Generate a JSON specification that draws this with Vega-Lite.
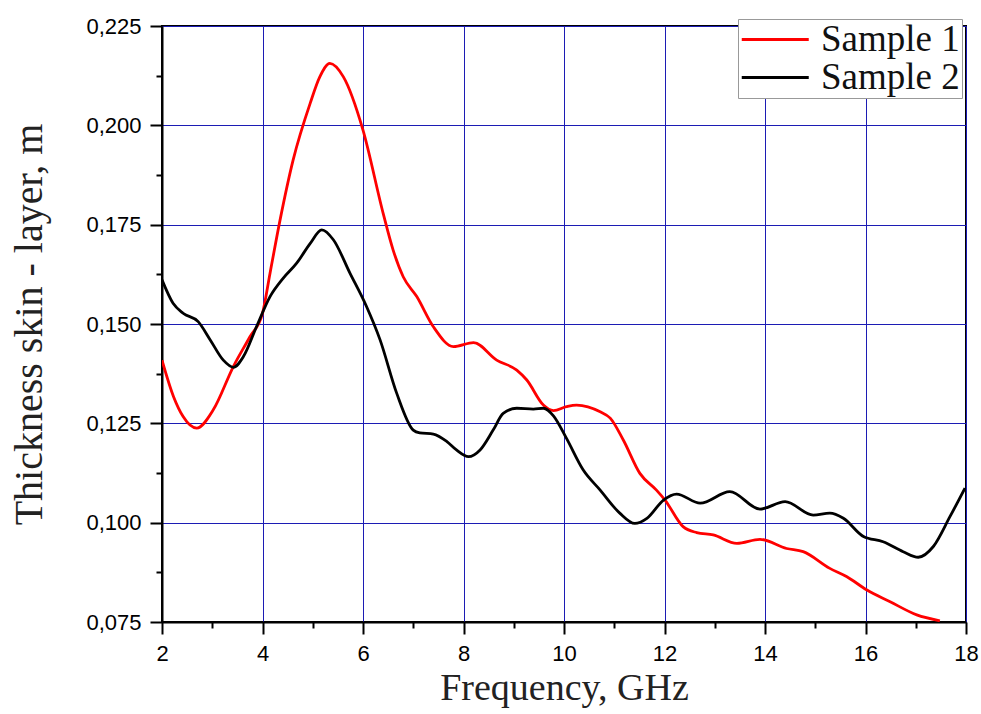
{
  "$schema": "https://vega.github.io/schema/vega-lite/v6.json",
  "width": 804,
  "height": 596,
  "autosize": {"type": "none"},
  "padding": {"left": 162, "top": 26, "right": 15, "bottom": 92},
  "background": "white",
  "config": {
    "view": {"stroke": "black", "strokeWidth": 2},
    "axis": {"domainColor": "black", "domainWidth": 2, "tickColor": "black", "tickWidth": 2}
  },
  "data": {
    "values": [
      {"f": 2.0, "t": 0.1409, "s": "Sample 1"},
      {"f": 2.23, "t": 0.1317, "s": "Sample 1"},
      {"f": 2.42, "t": 0.1267, "s": "Sample 1"},
      {"f": 2.69, "t": 0.1238, "s": "Sample 1"},
      {"f": 3.02, "t": 0.1284, "s": "Sample 1"},
      {"f": 3.42, "t": 0.1393, "s": "Sample 1"},
      {"f": 3.75, "t": 0.1468, "s": "Sample 1"},
      {"f": 4.0, "t": 0.1527, "s": "Sample 1"},
      {"f": 4.15, "t": 0.1628, "s": "Sample 1"},
      {"f": 4.35, "t": 0.1762, "s": "Sample 1"},
      {"f": 4.61, "t": 0.1913, "s": "Sample 1"},
      {"f": 4.95, "t": 0.2056, "s": "Sample 1"},
      {"f": 5.14, "t": 0.2122, "s": "Sample 1"},
      {"f": 5.34, "t": 0.2156, "s": "Sample 1"},
      {"f": 5.61, "t": 0.2122, "s": "Sample 1"},
      {"f": 6.0, "t": 0.1988, "s": "Sample 1"},
      {"f": 6.4, "t": 0.1779, "s": "Sample 1"},
      {"f": 6.6, "t": 0.1686, "s": "Sample 1"},
      {"f": 6.8, "t": 0.1619, "s": "Sample 1"},
      {"f": 7.07, "t": 0.1569, "s": "Sample 1"},
      {"f": 7.4, "t": 0.1493, "s": "Sample 1"},
      {"f": 7.8, "t": 0.1443, "s": "Sample 1"},
      {"f": 8.2, "t": 0.1453, "s": "Sample 1"},
      {"f": 8.66, "t": 0.1409, "s": "Sample 1"},
      {"f": 9.06, "t": 0.1384, "s": "Sample 1"},
      {"f": 9.26, "t": 0.1359, "s": "Sample 1"},
      {"f": 9.59, "t": 0.1296, "s": "Sample 1"},
      {"f": 9.79, "t": 0.1282, "s": "Sample 1"},
      {"f": 10.05, "t": 0.1292, "s": "Sample 1"},
      {"f": 10.25, "t": 0.1296, "s": "Sample 1"},
      {"f": 10.72, "t": 0.1279, "s": "Sample 1"},
      {"f": 10.92, "t": 0.1263, "s": "Sample 1"},
      {"f": 11.18, "t": 0.1208, "s": "Sample 1"},
      {"f": 11.51, "t": 0.1124, "s": "Sample 1"},
      {"f": 11.84, "t": 0.1082, "s": "Sample 1"},
      {"f": 12.01, "t": 0.1057, "s": "Sample 1"},
      {"f": 12.37, "t": 0.099, "s": "Sample 1"},
      {"f": 12.64, "t": 0.0975, "s": "Sample 1"},
      {"f": 12.97, "t": 0.0969, "s": "Sample 1"},
      {"f": 13.44, "t": 0.0948, "s": "Sample 1"},
      {"f": 13.9, "t": 0.0958, "s": "Sample 1"},
      {"f": 14.43, "t": 0.0935, "s": "Sample 1"},
      {"f": 14.76, "t": 0.0927, "s": "Sample 1"},
      {"f": 15.29, "t": 0.0885, "s": "Sample 1"},
      {"f": 15.63, "t": 0.0864, "s": "Sample 1"},
      {"f": 16.02, "t": 0.0831, "s": "Sample 1"},
      {"f": 16.49, "t": 0.0801, "s": "Sample 1"},
      {"f": 17.02, "t": 0.0768, "s": "Sample 1"},
      {"f": 17.48, "t": 0.0753, "s": "Sample 1"},
      {"f": 2.0, "t": 0.1611, "s": "Sample 2"},
      {"f": 2.22, "t": 0.1552, "s": "Sample 2"},
      {"f": 2.42, "t": 0.1527, "s": "Sample 2"},
      {"f": 2.72, "t": 0.1506, "s": "Sample 2"},
      {"f": 2.96, "t": 0.146, "s": "Sample 2"},
      {"f": 3.22, "t": 0.1409, "s": "Sample 2"},
      {"f": 3.42, "t": 0.1391, "s": "Sample 2"},
      {"f": 3.62, "t": 0.1418, "s": "Sample 2"},
      {"f": 3.88, "t": 0.1493, "s": "Sample 2"},
      {"f": 4.15, "t": 0.1569, "s": "Sample 2"},
      {"f": 4.41, "t": 0.1615, "s": "Sample 2"},
      {"f": 4.68, "t": 0.1653, "s": "Sample 2"},
      {"f": 4.95, "t": 0.1703, "s": "Sample 2"},
      {"f": 5.18, "t": 0.1737, "s": "Sample 2"},
      {"f": 5.41, "t": 0.1712, "s": "Sample 2"},
      {"f": 5.74, "t": 0.1628, "s": "Sample 2"},
      {"f": 6.07, "t": 0.1544, "s": "Sample 2"},
      {"f": 6.34, "t": 0.146, "s": "Sample 2"},
      {"f": 6.67, "t": 0.1326, "s": "Sample 2"},
      {"f": 7.0, "t": 0.1233, "s": "Sample 2"},
      {"f": 7.13, "t": 0.1226, "s": "Sample 2"},
      {"f": 7.4, "t": 0.1223, "s": "Sample 2"},
      {"f": 7.67, "t": 0.1204, "s": "Sample 2"},
      {"f": 7.86, "t": 0.1183, "s": "Sample 2"},
      {"f": 8.1, "t": 0.1166, "s": "Sample 2"},
      {"f": 8.33, "t": 0.1183, "s": "Sample 2"},
      {"f": 8.59, "t": 0.1233, "s": "Sample 2"},
      {"f": 8.79, "t": 0.1275, "s": "Sample 2"},
      {"f": 9.06, "t": 0.1288, "s": "Sample 2"},
      {"f": 9.39, "t": 0.1286, "s": "Sample 2"},
      {"f": 9.59, "t": 0.1288, "s": "Sample 2"},
      {"f": 9.79, "t": 0.1269, "s": "Sample 2"},
      {"f": 10.05, "t": 0.1212, "s": "Sample 2"},
      {"f": 10.38, "t": 0.1133, "s": "Sample 2"},
      {"f": 10.72, "t": 0.1082, "s": "Sample 2"},
      {"f": 11.11, "t": 0.1024, "s": "Sample 2"},
      {"f": 11.41, "t": 0.0998, "s": "Sample 2"},
      {"f": 11.65, "t": 0.1011, "s": "Sample 2"},
      {"f": 11.98, "t": 0.1057, "s": "Sample 2"},
      {"f": 12.24, "t": 0.1072, "s": "Sample 2"},
      {"f": 12.71, "t": 0.1049, "s": "Sample 2"},
      {"f": 13.3, "t": 0.1078, "s": "Sample 2"},
      {"f": 13.9, "t": 0.1034, "s": "Sample 2"},
      {"f": 14.4, "t": 0.1053, "s": "Sample 2"},
      {"f": 14.96, "t": 0.1019, "s": "Sample 2"},
      {"f": 15.29, "t": 0.1024, "s": "Sample 2"},
      {"f": 15.56, "t": 0.1011, "s": "Sample 2"},
      {"f": 15.96, "t": 0.0965, "s": "Sample 2"},
      {"f": 16.35, "t": 0.0952, "s": "Sample 2"},
      {"f": 16.75, "t": 0.0927, "s": "Sample 2"},
      {"f": 17.05, "t": 0.0913, "s": "Sample 2"},
      {"f": 17.35, "t": 0.094, "s": "Sample 2"},
      {"f": 17.68, "t": 0.1015, "s": "Sample 2"},
      {"f": 17.98, "t": 0.1087, "s": "Sample 2"}
    ]
  },
  "layer": [
    {
      "mark": {"type": "line", "strokeOpacity": 0},
      "encoding": {
        "x": {"field": "f", "type": "quantitative", "scale": {"domain": [2, 18], "nice": false, "zero": false},
          "axis": {"orient": "bottom", "values": [3, 5, 7, 9, 11, 13, 15, 17], "labels": false, "grid": false, "domain": false, "tickSize": 6, "title": null}},
        "y": {"field": "t", "type": "quantitative", "scale": {"domain": [0.075, 0.225], "nice": false, "zero": false},
          "axis": {"orient": "left", "values": [0.0875, 0.1125, 0.1375, 0.1625, 0.1875, 0.2125], "labels": false, "grid": false, "domain": false, "tickSize": 6, "title": null}},
        "detail": {"field": "s"}
      }
    },
    {
      "mark": {"type": "line", "interpolate": "monotone", "strokeWidth": 2.8, "clip": true},
      "encoding": {
        "x": {"field": "f", "type": "quantitative",
          "axis": {"orient": "bottom", "values": [2, 4, 6, 8, 10, 12, 14, 16, 18], "tickSize": 12, "grid": true, "gridColor": "#1c1cb4", "gridWidth": 1, "gridOpacity": 1,
            "labelFont": "Liberation Sans", "labelFontSize": 22, "labelColor": "black", "labelPadding": 9, "labelFlush": false,
            "title": "Frequency, GHz", "titleFont": "Liberation Serif", "titleFontSize": 38, "titleFontWeight": "normal", "titleColor": "#222", "titleBaseline": "alphabetic", "titleY": 77}},
        "y": {"field": "t", "type": "quantitative",
          "axis": {"orient": "left", "values": [0.075, 0.1, 0.125, 0.15, 0.175, 0.2, 0.225], "tickSize": 12, "grid": true, "gridColor": "#1c1cb4", "gridWidth": 1, "gridOpacity": 1,
            "labelExpr": "replace(format(datum.value, '.3f'), '.', ',')", "labelFlush": false,
            "labelFont": "Liberation Sans", "labelFontSize": 22, "labelColor": "black", "labelPadding": 9,
            "title": "Thickness skin - layer, m", "titleFont": "Liberation Serif", "titleFontSize": 40, "titleFontWeight": "normal", "titleColor": "#222", "titleBaseline": "alphabetic", "titleX": -121}},
        "color": {"field": "s", "type": "nominal", "scale": {"domain": ["Sample 1", "Sample 2"], "range": ["#ff0000", "#000000"]},
          "legend": {"orient": "none", "legendX": 576, "legendY": -7, "title": null, "symbolType": "M-1,0L3,0", "symbolStrokeWidth": 3, "symbolSize": 1122,
            "labelFont": "Liberation Serif", "labelFontSize": 37, "labelColor": "#111", "labelOffset": 44, "strokeColor": "#999", "fillColor": "white", "padding": 2, "rowPadding": 0}}
      }
    }
  ],
  "resolve": {"axis": {"x": "independent", "y": "independent"}}
}
